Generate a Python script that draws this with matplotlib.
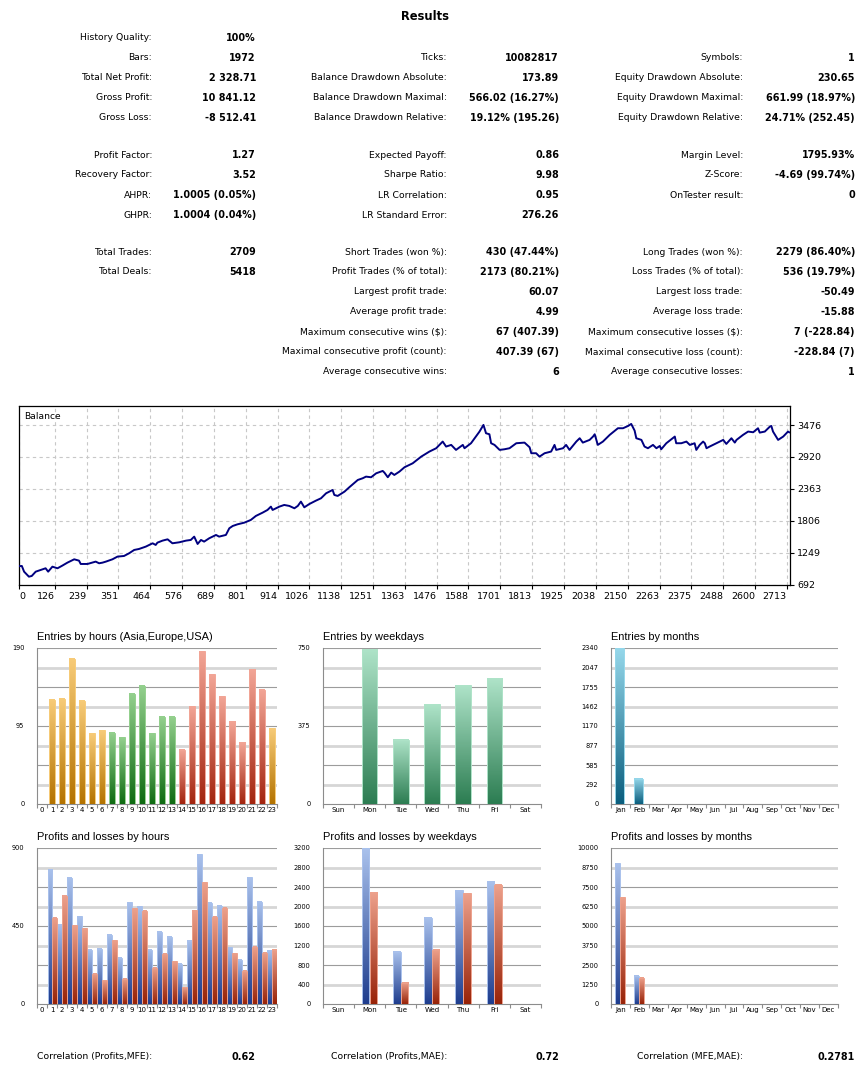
import numpy as np
import matplotlib
matplotlib.use('Agg')
import matplotlib.pyplot as plt
from matplotlib.colors import LinearSegmentedColormap

plt.rcParams['font.family'] = 'DejaVu Sans'

W, H = 861, 1080

# report table: (label, value), None = empty cell
col1 = [("History Quality:", "100%"), ("Bars:", "1972"), ("Total Net Profit:", "2 328.71"),
        ("Gross Profit:", "10 841.12"), ("Gross Loss:", "-8 512.41"),
        ("Profit Factor:", "1.27"), ("Recovery Factor:", "3.52"),
        ("AHPR:", "1.0005 (0.05%)"), ("GHPR:", "1.0004 (0.04%)"),
        ("Total Trades:", "2709"), ("Total Deals:", "5418"),
        None, None, None, None, None]
col2 = [None, ("Ticks:", "10082817"), ("Balance Drawdown Absolute:", "173.89"),
        ("Balance Drawdown Maximal:", "566.02 (16.27%)"), ("Balance Drawdown Relative:", "19.12% (195.26)"),
        ("Expected Payoff:", "0.86"), ("Sharpe Ratio:", "9.98"),
        ("LR Correlation:", "0.95"), ("LR Standard Error:", "276.26"),
        ("Short Trades (won %):", "430 (47.44%)"), ("Profit Trades (% of total):", "2173 (80.21%)"),
        ("Largest profit trade:", "60.07"), ("Average profit trade:", "4.99"),
        ("Maximum consecutive wins ($):", "67 (407.39)"),
        ("Maximal consecutive profit (count):", "407.39 (67)"),
        ("Average consecutive wins:", "6")]
col3 = [None, ("Symbols:", "1"), ("Equity Drawdown Absolute:", "230.65"),
        ("Equity Drawdown Maximal:", "661.99 (18.97%)"), ("Equity Drawdown Relative:", "24.71% (252.45)"),
        ("Margin Level:", "1795.93%"), ("Z-Score:", "-4.69 (99.74%)"),
        ("OnTester result:", "0"), None,
        ("Long Trades (won %):", "2279 (86.40%)"), ("Loss Trades (% of total):", "536 (19.79%)"),
        ("Largest loss trade:", "-50.49"), ("Average loss trade:", "-15.88"),
        ("Maximum consecutive losses ($):", "7 (-228.84)"),
        ("Maximal consecutive loss (count):", "-228.84 (7)"),
        ("Average consecutive losses:", "1")]
correlations = [("Correlation (Profits,MFE):", "0.62"), ("Correlation (Profits,MAE):", "0.72"),
                ("Correlation (MFE,MAE):", "0.2781")]

# balance curve
balance_trade = [0, 10, 18, 35, 45, 59, 77, 94, 103, 118, 136, 153, 171, 195, 212, 218, 242, 271, 283, 295,
                 307, 330, 348, 371, 389, 407, 424, 448, 472, 483, 489, 507, 525, 542, 566, 590, 607, 619, 631, 643,
                 654, 672, 696, 707, 731, 743, 755, 772, 796, 819, 837, 861, 878, 890, 896, 920, 937, 955, 973, 985,
                 996, 1008, 1026, 1049, 1067, 1085, 1108, 1114, 1126, 1150, 1167, 1197, 1214, 1226, 1244, 1262,
                 1285, 1291, 1303, 1315, 1326, 1344, 1362, 1391, 1421, 1444,
                 1450, 1474, 1497, 1509, 1527, 1544, 1568, 1574, 1597, 1627, 1641, 1650, 1662, 1668, 1680, 1698,
                 1715, 1733, 1757, 1786, 1804, 1810, 1827, 1839, 1857, 1880, 1892, 1898, 1922, 1933, 1945, 1969,
                 1981, 1992, 2016, 2028, 2034, 2045, 2063, 2087, 2116, 2134, 2152, 2163, 2175, 2181, 2199, 2210,
                 2222, 2240, 2252, 2264, 2269, 2287, 2317, 2322, 2340, 2358, 2370, 2387, 2393, 2405, 2417, 2423,
                 2429, 2440, 2464, 2488, 2499, 2517, 2529, 2535, 2558, 2576, 2594, 2611, 2617, 2635, 2653, 2658,
                 2664, 2682, 2700, 2717, 2721]
balance_value = [1020, 1023, 924, 837, 849, 924, 954, 983, 924, 1011, 983, 1029, 1081, 1139, 1116, 1058, 1058, 1099,
                 1070, 1081, 1099, 1139, 1186, 1197, 1244, 1302, 1319, 1360, 1418, 1389, 1429, 1464, 1487, 1418,
                 1435, 1464, 1476, 1534, 1406, 1476, 1447, 1505, 1563, 1534, 1563, 1679, 1719, 1748, 1777, 1824,
                 1894, 1952, 1998, 2056, 1998, 2056, 2085, 2068, 2027, 2068, 2143, 2044, 2102, 2160, 2201, 2288,
                 2346, 2259, 2242, 2317, 2393, 2520, 2549, 2578, 2567, 2636, 2677, 2648, 2567, 2648, 2607, 2665,
                 2741, 2810, 2926, 2996,
                 3014, 3072, 3188, 3101, 3130, 3043, 3130, 3072, 3159, 3362, 3478, 3333, 3315, 3159, 3130, 3043,
                 3054, 3072, 3159, 3170, 3089, 2985, 2985, 2926, 2985, 3014, 3130, 3043, 3072, 3130, 3043, 3188,
                 3246, 3170, 3217, 3275, 3315, 3130, 3188, 3304, 3420, 3420, 3460, 3495, 3379, 3246, 3217, 3101,
                 3072, 3130, 3072, 3112, 3054, 3159, 3275, 3159, 3159, 3188, 3130, 3159, 3043, 3130, 3188, 3159,
                 3072, 3101, 3159, 3217, 3147, 3246, 3170, 3217, 3304, 3362, 3350, 3420, 3344, 3362, 3449, 3460,
                 3362, 3217, 3275, 3362, 3350]
balance_xticks = [0, 126, 239, 351, 464, 576, 689, 801, 914, 1026, 1138, 1251, 1363, 1476, 1588, 1701,
                  1813, 1925, 2038, 2150, 2263, 2375, 2488, 2600, 2713]
balance_yticks = [692, 1249, 1806, 2363, 2920, 3476]

hours = [str(h) for h in range(24)]
hour_session = ['asia'] * 7 + ['europe'] * 7 + ['usa'] * 9 + ['asia']
hour_entries = [0, 127, 128, 177, 126, 86, 90, 87, 81, 134, 144, 86, 106, 106, 66, 119, 186, 158, 131, 101, 75, 164, 139, 92]
hour_profit = [0, 775, 457, 727, 505, 312, 318, 399, 268, 586, 565, 312, 418, 387, 231, 364, 865, 584, 567, 326, 254, 732, 590, 310]
hour_loss = [0, 499, 624, 455, 437, 175, 137, 368, 145, 553, 538, 208, 291, 247, 96, 541, 701, 503, 555, 293, 191, 330, 295, 312]

weekdays = ['Sun', 'Mon', 'Tue', 'Wed', 'Thu', 'Fri', 'Sat']
weekday_entries = [0, 744, 309, 480, 571, 605, 0]
weekday_profit = [0, 3190, 1069, 1768, 2330, 2508, 0]
weekday_loss = [0, 2282, 432, 1110, 2268, 2446, 0]

months = ['Jan', 'Feb', 'Mar', 'Apr', 'May', 'Jun', 'Jul', 'Aug', 'Sep', 'Oct', 'Nov', 'Dec']
month_entries = [2333, 376, 0, 0, 0, 0, 0, 0, 0, 0, 0, 0]
month_profit = [9036, 1799, 0, 0, 0, 0, 0, 0, 0, 0, 0, 0]
month_loss = [6850, 1670, 0, 0, 0, 0, 0, 0, 0, 0, 0, 0]

# colours (top, bottom) of the gradient bars
SESSION = {'asia': ('#F7CB78', '#B47300'), 'europe': ('#94D08E', '#0F6B12'), 'usa': ('#F2A596', '#A3250F')}
WEEK_GREEN = ('#AEE3C8', '#2C7D52')
MONTH_CYAN = ('#95D7EA', '#0B5E7E')
PROFIT = ('#A9C1EC', '#1E3D8E')
LOSS = ('#EDA18C', '#982308')

GRAD = np.linspace(0, 1, 100).reshape(-1, 1)

fig = plt.figure(figsize=(W / 100, H / 100), dpi=100)
fig.patch.set_facecolor('white')


def box(l, t, r, b):
    return [l / W, 1 - b / H, (r - l) / W, (b - t) / H]


def ftext(x, y, s, **kw):
    fig.text(x / W, 1 - y / H, s, va='center', **kw)


# ---- report table
ftext(425, 16, "Results", ha='center', fontsize=8.3, fontweight='bold')
row_y = [38, 58, 78, 98, 118, 155, 175, 195, 215, 252, 272, 292, 312, 332, 352, 372]
for col, (lx, vx) in zip([col1, col2, col3], [(152, 256), (447, 559), (743, 855)]):
    for y, cell in zip(row_y, col):
        if cell is None:
            continue
        ftext(lx, y, cell[0], ha='right', fontsize=6.7)
        ftext(vx, y, cell[1], ha='right', fontsize=6.9, fontweight='bold')
for (lab, val), (lx, vx) in zip(correlations, [(152, 256), (447, 559), (743, 855)]):
    ftext(lx, 1057, lab, ha='right', fontsize=6.7)
    ftext(vx, 1057, val, ha='right', fontsize=6.9, fontweight='bold')

# ---- balance chart
ax = fig.add_axes(box(19, 406, 790, 585))
ax.plot(balance_trade, balance_value, color='#000080', lw=1.4, zorder=3)
ax.set_xlim(0, 2724)
ax.set_ylim(692, 3807)
ax.set_xticks(balance_xticks)
ax.set_xticklabels([str(v) for v in balance_xticks])
ax.set_yticks(balance_yticks)
ax.yaxis.tick_right()
ax.grid(True, color='#C8C8C8', ls=(0, (3, 3)), lw=0.8)
ax.tick_params(labelsize=6.8, length=3, pad=2)
for i, lab in enumerate(ax.get_xticklabels()):
    lab.set_ha('left' if i == 0 else 'right')
for s in ax.spines.values():
    s.set_color('black')
    s.set_linewidth(0.9)
ax.text(0.006, 0.965, 'Balance', transform=ax.transAxes, fontsize=6.6, va='top')


# ---- bar charts
def gradient_bars(ax, left, heights, width, colors):
    bars = ax.bar(left, heights, width, align='edge', facecolor='none', linewidth=0.7, zorder=4)
    for b, h, (top, bot) in zip(bars, heights, colors):
        if h <= 0:
            b.set_visible(False)
            continue
        b.set_edgecolor(top)
        cmap = LinearSegmentedColormap.from_list('g', [bot, top])
        x0 = b.get_x()
        ax.imshow(GRAD, cmap=cmap, origin='lower', aspect='auto',
                  extent=(x0, x0 + b.get_width(), 0, h), zorder=3)


def small_chart(rect, title, labels, ymax, yticks):
    ax = fig.add_axes(box(*rect))
    for i in range(1, 9):
        y = ymax * i / 8
        if i % 2:
            ax.axhline(y, color='#D6D6D6', lw=2.0, zorder=1)
        else:
            ax.axhline(y, color='#9C9C9C', lw=0.8, zorder=1)
    n = len(labels)
    ax.set_yticks(yticks)
    ax.set_yticklabels([str(v) for v in yticks], fontsize=4.8)
    ax.set_xticks(range(n))
    ax.set_xticklabels(labels, fontsize=5)
    ax.set_xticks(np.arange(n + 1) - 0.5, minor=True)
    ax.tick_params(axis='x', which='major', length=0, pad=2.5)
    ax.tick_params(axis='x', which='minor', length=3, color='#8C8C8C', width=0.8)
    ax.tick_params(axis='y', length=0, pad=9)
    for s in ['top', 'right']:
        ax.spines[s].set_visible(False)
    for s in ['left', 'bottom']:
        ax.spines[s].set_color('#8C8C8C')
        ax.spines[s].set_linewidth(0.8)
    ax.set_facecolor('none')
    fig.text(rect[0] / W, 1 - (rect[1] - 11) / H, title, fontsize=7.9,
             family='Liberation Sans', va='center')
    return ax


def finish(ax, n, ymax):
    ax.set_xlim(-0.5, n - 0.5)
    ax.set_ylim(0, ymax)


x = np.arange(24)
a = small_chart((37, 648, 277, 804), "Entries by hours (Asia,Europe,USA)", hours, 190, [0, 95, 190])
gradient_bars(a, x - 0.3, hour_entries, 0.6, [SESSION[s] for s in hour_session])
finish(a, 24, 190)

a = small_chart((37, 848, 277, 1004), "Profits and losses by hours", hours, 900, [0, 450, 900])
gradient_bars(a, x - 0.45, hour_profit, 0.45, [PROFIT] * 24)
gradient_bars(a, x, hour_loss, 0.47, [LOSS] * 24)
finish(a, 24, 900)

x = np.arange(7)
a = small_chart((323, 648, 541, 804), "Entries by weekdays", weekdays, 750, [0, 375, 750])
gradient_bars(a, x - 0.25, weekday_entries, 0.5, [WEEK_GREEN] * 7)
finish(a, 7, 750)

a = small_chart((323, 848, 541, 1004), "Profits and losses by weekdays", weekdays, 3200,
                [0, 400, 800, 1200, 1600, 2000, 2400, 2800, 3200])
gradient_bars(a, x - 0.25, weekday_profit, 0.24, [PROFIT] * 7)
gradient_bars(a, x, weekday_loss, 0.24, [LOSS] * 7)
finish(a, 7, 3200)

x = np.arange(12)
a = small_chart((611, 648, 838, 804), "Entries by months", months, 2340,
                [0, 292, 585, 877, 1170, 1462, 1755, 2047, 2340])
gradient_bars(a, x - 0.3, month_entries, 0.47, [MONTH_CYAN] * 12)
finish(a, 12, 2340)

a = small_chart((611, 848, 838, 1004), "Profits and losses by months", months, 10000,
                [0, 1250, 2500, 3750, 5000, 6250, 7500, 8750, 10000])
gradient_bars(a, x - 0.3, month_profit, 0.26, [PROFIT] * 12)
gradient_bars(a, x - 0.04, month_loss, 0.26, [LOSS] * 12)
finish(a, 12, 10000)

fig.savefig('out.png', dpi=100)
